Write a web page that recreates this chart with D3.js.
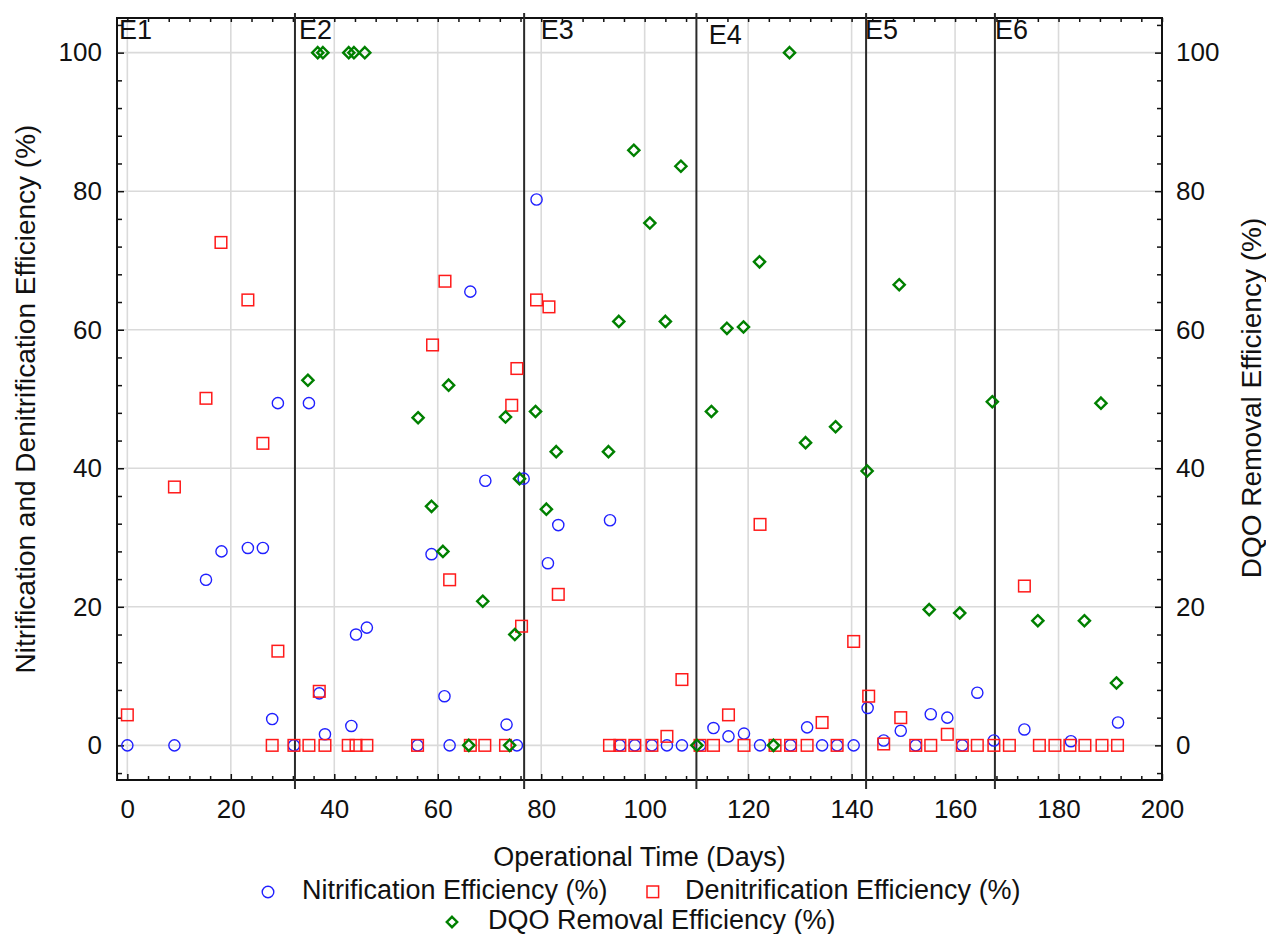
<!DOCTYPE html>
<html>
<head>
<meta charset="utf-8">
<script src="https://cdn.jsdelivr.net/npm/d3@7"></script>
<style>
  body { margin: 0; background: #fff; }
  svg { display: block; font-family: "Liberation Sans", Arial, sans-serif; }
</style>
</head>
<body>
<svg id="chart" width="1266" height="934"></svg>
<script>
// Nitrification efficiency (%) - blue circles
const nitDays = [0, 9.1, 15.2, 18.2, 23.3, 26.2, 28.0, 29.1, 32.2, 35.1, 37.1, 38.2, 43.3, 44.2, 46.3, 56.1, 58.8, 61.3, 62.3, 66.3,
  69.2, 73.3, 75.3, 76.6, 79.1, 81.3, 83.3, 93.3, 95.2, 98.1, 101.4, 104.3, 107.2, 110.7, 113.3, 116.2, 119.2, 122.3, 128.2, 131.4,
  134.3, 137.2, 140.4, 143.1, 146.2, 149.5, 152.4, 155.3, 158.5, 161.4, 164.3, 167.5, 173.4, 182.4, 191.5]
const nitVals = [0, 0, 23.9, 28.0, 28.5, 28.5, 3.8, 49.4, 0, 49.4, 7.5, 1.6, 2.8, 16.0, 17.0, 0, 27.6, 7.1, 0, 65.5,
  38.2, 3.0, 0, 38.5, 78.8, 26.3, 31.8, 32.5, 0, 0, 0, 0, 0, 0, 2.5, 1.3, 1.7, 0, 0, 2.6,
  0, 0, 0, 5.4, 0.7, 2.1, 0, 4.5, 4.0, 0, 7.6, 0.7, 2.3, 0.6, 3.3]

// Denitrification efficiency (%) - red squares
const denDays = [0, 9.1, 15.2, 18.1, 23.3, 26.2, 28.0, 29.1, 32.2, 35.1, 37.1, 38.2, 42.7, 44.2, 46.3, 56.1, 59.0, 61.4, 62.3, 66.3,
  69.1, 73.1, 74.3, 75.3, 76.2, 79.1, 81.5, 83.3, 93.2, 95.2, 98.1, 101.4, 104.3, 107.2, 110.7, 113.3, 116.2, 119.2, 122.3, 125.2,
  128.2, 131.4, 134.3, 137.2, 140.4, 143.3, 146.2, 149.5, 152.4, 155.3, 158.5, 161.4, 164.3, 167.5, 170.5, 173.4, 176.3, 179.3, 182.2, 185.1,
  188.4, 191.4]
const denVals = [4.4, 37.3, 50.1, 72.6, 64.3, 43.6, 0, 13.6, 0, 0, 7.8, 0, 0, 0, 0, 0, 57.8, 67.0, 23.9, 0,
  0, 0, 49.1, 54.4, 17.2, 64.3, 63.3, 21.8, 0, 0, 0, 0, 1.3, 9.5, 0, 0, 4.4, 0, 31.9, 0,
  0, 0, 3.3, 0, 15.0, 7.1, 0.2, 4.0, 0, 0, 1.6, 0, 0, 0, 0, 23.0, 0, 0, 0, 0,
  0, 0]

// DQO removal efficiency (%) - green diamonds, right axis
const dqoDays = [34.9, 36.8, 37.8, 42.8, 43.8, 45.9, 56.2, 58.8, 61.0, 62.1, 66.0, 68.7, 73.1, 73.9, 74.9, 75.8, 78.9, 81.0, 82.9, 93.0,
  95.0, 97.9, 101.0, 104.0, 107.0, 110.1, 112.9, 115.9, 119.1, 122.2, 124.9, 128.0, 131.1, 136.9, 143.0, 149.2, 155.0, 160.9, 167.2, 176.0,
  185.0, 188.2, 191.2]
const dqoVals = [52.7, 100, 100, 100, 100, 100, 47.3, 34.5, 28.0, 52.0, 0, 20.8, 47.4, 0, 16.0, 38.5, 48.2, 34.1, 42.4, 42.4,
  61.2, 85.9, 75.4, 61.2, 83.6, 0, 48.2, 60.2, 60.4, 69.8, 0, 100, 43.7, 46.0, 39.6, 66.5, 19.6, 19.1, 49.6, 18.0,
  18.0, 49.4, 9.0]

// stage boundaries and stage labels
const stageLines = [32.4, 76.7, 110.0, 142.8, 167.7]
const stageNames = ["E1", "E2", "E3", "E4", "E5", "E6"]
const stageLabelDays = [-1.6, 33.2, 79.9, 112.4, 142.6, 167.7]
const stageLabelVals = [101.9, 101.9, 101.9, 101.2, 101.9, 101.9]

const xTicks = [0, 20, 40, 60, 80, 100, 120, 140, 160, 180, 200]
const yTicks = [0, 20, 40, 60, 80, 100]

const svg = d3.select("#chart")
const pLeft = 117, pRight = 1162, pTop = 18, pBottom = 780

const x = d3.scaleLinear().domain([-2, 200]).range([pLeft, pRight])
const y = d3.scaleLinear().domain([-5, 105]).range([pBottom, pTop])
const yR = d3.scaleLinear().domain([-5, 105]).range([pBottom, pTop])

// grid
svg.append("g").selectAll("line")
  .data(xTicks).join("line")
  .attr("x1", d => x(d)).attr("x2", d => x(d))
  .attr("y1", pTop).attr("y2", pBottom)
  .attr("stroke", "#dadada").attr("stroke-width", 1.6)
svg.append("g").selectAll("line")
  .data(yTicks).join("line")
  .attr("x1", pLeft).attr("x2", pRight)
  .attr("y1", d => y(d)).attr("y2", d => y(d))
  .attr("stroke", "#dadada").attr("stroke-width", 1.6)

// axes: major + minor ticks pointing inward
const minorX = d3.range(0, 201, 4).filter(d => d % 20 !== 0)
const minorY = d3.range(-4, 105, 4).filter(d => d % 20 !== 0)

function styleAxis(g, size) {
  g.select(".domain").remove()
  g.selectAll("line").attr("stroke", "#111").attr("stroke-width", 1.5)
  g.selectAll("text").attr("fill", "#111").style("font-size", size + "px")
    .style("font-family", '"Liberation Sans", Arial, sans-serif')
}

svg.append("g").attr("transform", `translate(0,${pBottom})`)
  .call(d3.axisBottom(x).tickValues(xTicks).tickSize(-6).tickPadding(20))
  .call(g => styleAxis(g, 26))
svg.append("g").attr("transform", `translate(0,${pBottom})`)
  .call(d3.axisBottom(x).tickValues(minorX).tickSize(-4).tickFormat(""))
  .call(g => styleAxis(g, 26))
svg.append("g").attr("transform", `translate(0,${pTop})`)
  .call(d3.axisTop(x).tickValues(xTicks.concat(minorX)).tickSize(-4).tickFormat(""))
  .call(g => styleAxis(g, 26))

svg.append("g").attr("transform", `translate(${pLeft},0)`)
  .call(d3.axisLeft(y).tickValues(yTicks).tickSize(-7).tickPadding(15))
  .call(g => styleAxis(g, 26))
svg.append("g").attr("transform", `translate(${pLeft},0)`)
  .call(d3.axisLeft(y).tickValues(minorY).tickSize(-5).tickFormat(""))
  .call(g => styleAxis(g, 26))

svg.append("g").attr("transform", `translate(${pRight},0)`)
  .call(d3.axisRight(yR).tickValues(yTicks).tickSize(-7).tickPadding(14))
  .call(g => styleAxis(g, 26))
svg.append("g").attr("transform", `translate(${pRight},0)`)
  .call(d3.axisRight(yR).tickValues(minorY).tickSize(-5).tickFormat(""))
  .call(g => styleAxis(g, 26))

// frame
svg.append("rect")
  .attr("x", pLeft).attr("y", pTop)
  .attr("width", pRight - pLeft).attr("height", pBottom - pTop)
  .attr("fill", "none").attr("stroke", "#111").attr("stroke-width", 2)

// stage lines
svg.append("g").selectAll("line")
  .data(stageLines).join("line")
  .attr("x1", d => x(d)).attr("x2", d => x(d))
  .attr("y1", pTop - 5).attr("y2", pBottom + 9)
  .attr("stroke", "#2a2a2a").attr("stroke-width", 2)

svg.append("g").selectAll("text")
  .data(stageNames).join("text")
  .attr("x", (d, i) => x(stageLabelDays[i]))
  .attr("y", (d, i) => y(stageLabelVals[i]))
  .attr("fill", "#111")
  .style("font-size", "27px")
  .text(d => d)

// markers
const nit = nitDays.map((d, i) => ({day: d, v: nitVals[i]}))
const den = denDays.map((d, i) => ({day: d, v: denVals[i]}))
const dqo = dqoDays.map((d, i) => ({day: d, v: dqoVals[i]}))

svg.append("g").selectAll("circle")
  .data(nit).join("circle")
  .attr("cx", d => x(d.day)).attr("cy", d => y(d.v))
  .attr("r", 5.6)
  .attr("fill", "none").attr("stroke", "#2020ff").attr("stroke-width", 1.4)

svg.append("g").selectAll("rect")
  .data(den).join("rect")
  .attr("x", d => x(d.day) - 5.8).attr("y", d => y(d.v) - 5.8)
  .attr("width", 11.6).attr("height", 11.6)
  .attr("fill", "none").attr("stroke", "#ff1a1a").attr("stroke-width", 1.5)

const diamond = "M0,-5.6L5.6,0L0,5.6L-5.6,0Z"
svg.append("g").selectAll("path")
  .data(dqo).join("path")
  .attr("transform", d => `translate(${x(d.day)},${yR(d.v)})`)
  .attr("d", diamond)
  .attr("fill", "none").attr("stroke", "#008000").attr("stroke-width", 2.4)

// axis titles
svg.append("text")
  .attr("x", (pLeft + pRight) / 2).attr("y", 866)
  .attr("text-anchor", "middle").attr("fill", "#111")
  .style("font-size", "27px")
  .text("Operational Time (Days)")

svg.append("text")
  .attr("transform", `translate(35,399) rotate(-90)`)
  .attr("text-anchor", "middle").attr("fill", "#111")
  .style("font-size", "28px")
  .text("Nitrification and Denitrification Efficiency (%)")

svg.append("text")
  .attr("transform", `translate(1261,398) rotate(-90)`)
  .attr("text-anchor", "middle").attr("fill", "#111")
  .style("font-size", "28px")
  .text("DQO Removal Efficiency (%)")

// legend
const lg = svg.append("g")
lg.append("circle").attr("cx", 268).attr("cy", 892).attr("r", 5.8)
  .attr("fill", "none").attr("stroke", "#2020ff").attr("stroke-width", 1.4)
lg.append("text").attr("x", 302).attr("y", 899).attr("fill", "#111")
  .style("font-size", "27px").text("Nitrification Efficiency (%)")
lg.append("rect").attr("x", 647).attr("y", 886).attr("width", 11.6).attr("height", 11.6)
  .attr("fill", "none").attr("stroke", "#ff1a1a").attr("stroke-width", 1.5)
lg.append("text").attr("x", 685).attr("y", 899).attr("fill", "#111")
  .style("font-size", "27px").text("Denitrification Efficiency (%)")
lg.append("path").attr("transform", "translate(452,922)").attr("d", "M0,-5.2L5.2,0L0,5.2L-5.2,0Z")
  .attr("fill", "none").attr("stroke", "#008000").attr("stroke-width", 2.4)
lg.append("text").attr("x", 488).attr("y", 929).attr("fill", "#111")
  .style("font-size", "27px").text("DQO Removal Efficiency (%)")
</script>
</body>
</html>
